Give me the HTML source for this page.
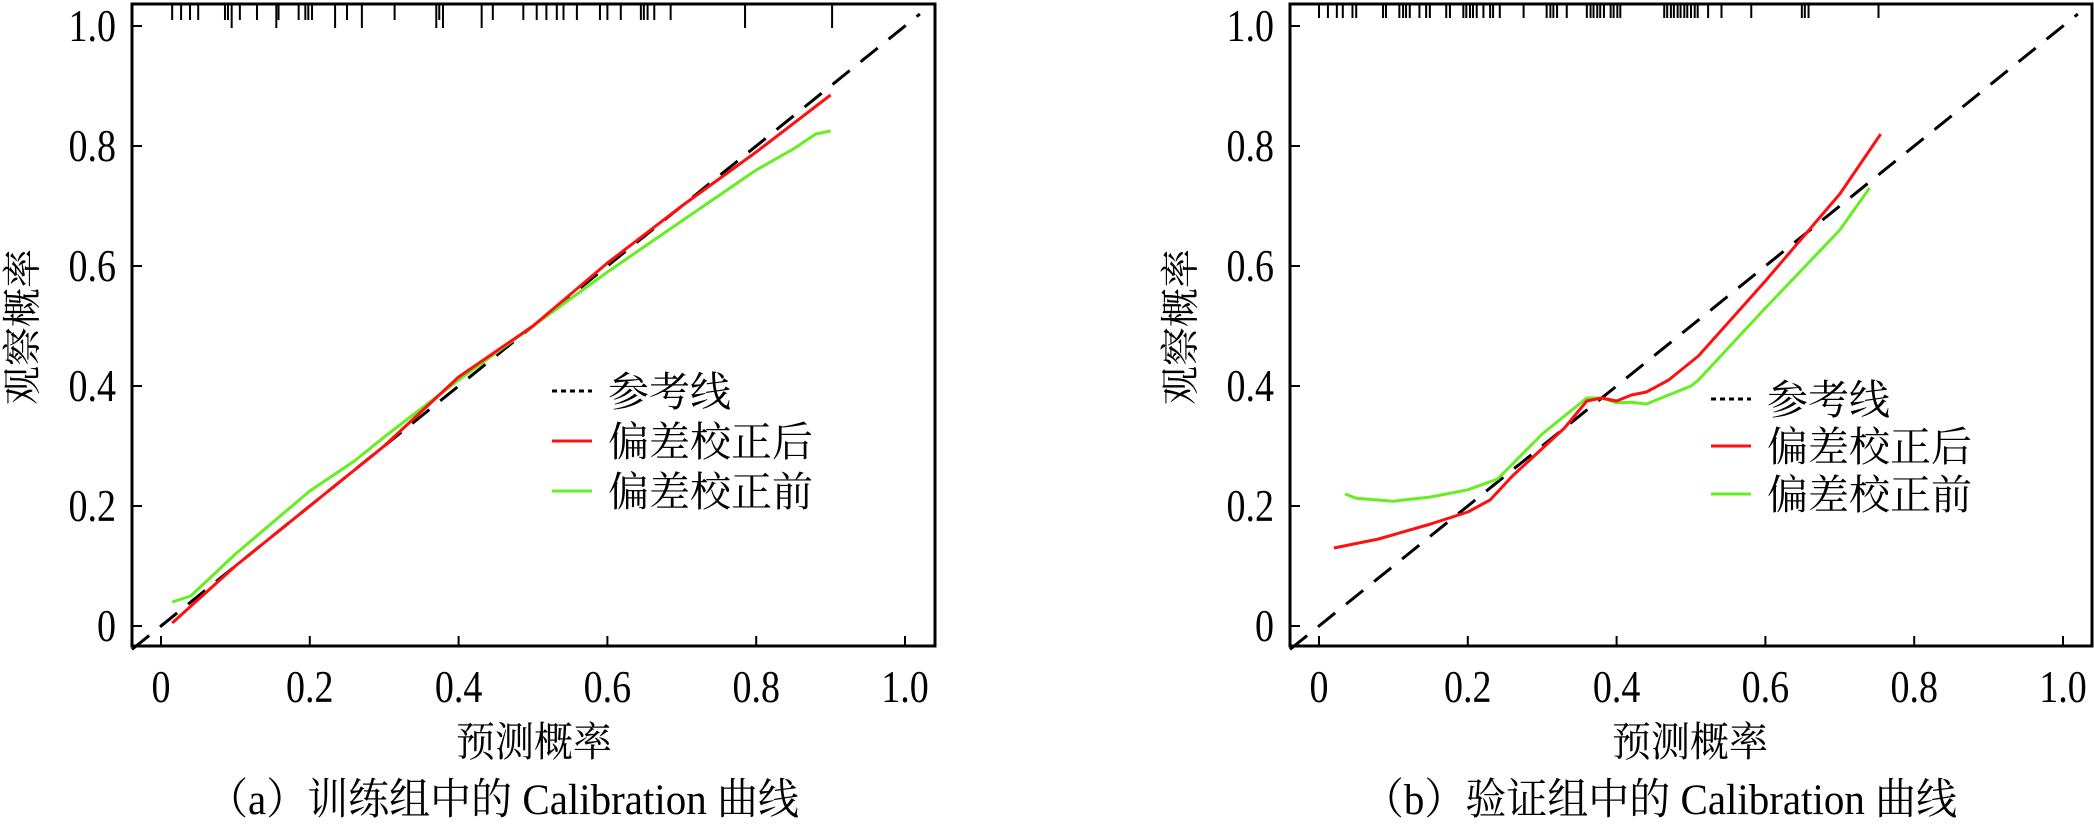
<!DOCTYPE html>
<html><head><meta charset="utf-8"><style>
html,body{margin:0;padding:0;background:#fff;}
svg{display:block;font-family:"Liberation Serif","Noto Serif CJK SC",serif;}
</style></head><body>
<svg id="chart" width="2094" height="824" viewBox="0 0 2094 824" xmlns="http://www.w3.org/2000/svg"></svg>
<script>
const xTicks=[0,0.2,0.4,0.6,0.8,1.0];
const xTickLabels=["0","0.2","0.4","0.6","0.8","1.0"];
const yTicks=[0,0.2,0.4,0.6,0.8,1.0];
const yTickLabels=["0","0.2","0.4","0.6","0.8","1.0"];
const legendLabels=["参考线","偏差校正后","偏差校正前"];
const trainRedX=[0.015,0.1,0.2,0.3,0.4,0.5,0.6,0.7,0.8,0.9];
const trainRedY=[0.005,0.1,0.2,0.3,0.415,0.5,0.605,0.7,0.79,0.885];
const trainGreenX=[0.015,0.04,0.1,0.2,0.26,0.3,0.4,0.5,0.6,0.7,0.8,0.85,0.88,0.9];
const trainGreenY=[0.04,0.05,0.12,0.225,0.275,0.315,0.41,0.5,0.59,0.675,0.76,0.795,0.82,0.825];
const validRedX=[0.02,0.08,0.15,0.2,0.23,0.26,0.33,0.36,0.38,0.4,0.42,0.44,0.47,0.51,0.6,0.7,0.755];
const validRedY=[0.13,0.145,0.17,0.19,0.21,0.25,0.33,0.375,0.38,0.375,0.385,0.39,0.41,0.45,0.575,0.72,0.82];
const validGreenX=[0.035,0.05,0.1,0.15,0.2,0.24,0.3,0.36,0.38,0.4,0.42,0.44,0.5,0.51,0.6,0.7,0.74];
const validGreenY=[0.22,0.213,0.208,0.215,0.227,0.245,0.32,0.38,0.38,0.372,0.373,0.37,0.4,0.41,0.53,0.66,0.73];
const trainRug=[0.015,0.027,0.039,0.05,0.086,0.09,0.095,0.106,0.129,0.155,0.158,0.185,0.194,0.198,0.203,0.234,0.25,0.27,0.314,0.37,0.374,0.379,0.431,0.446,0.487,0.505,0.518,0.532,0.541,0.559,0.59,0.6,0.618,0.645,0.649,0.654,0.663,0.685,0.785,0.902];
const trainRugLong=[0.095,0.155,0.234,0.27,0.37,0.379,0.431,0.785,0.902];
const validRug=[0,0.012,0.024,0.032,0.045,0.05,0.086,0.09,0.108,0.113,0.117,0.122,0.135,0.144,0.149,0.171,0.176,0.194,0.198,0.203,0.207,0.212,0.221,0.23,0.234,0.243,0.275,0.306,0.311,0.315,0.32,0.333,0.36,0.365,0.369,0.374,0.378,0.383,0.392,0.396,0.401,0.405,0.464,0.468,0.473,0.477,0.482,0.486,0.491,0.495,0.5,0.505,0.509,0.523,0.541,0.581,0.649,0.653,0.658,0.752];
const NS="http://www.w3.org/2000/svg";
const svg=document.getElementById('chart');
function mk(tag,attrs,parent){const e=document.createElementNS(NS,tag);for(const k in attrs)e.setAttribute(k,attrs[k]);(parent||svg).appendChild(e);return e;}
function txt(g,x,y,size,anchor,str,sy){
  return mk('text',{x:0,y:0,'font-size':size,'text-anchor':anchor,transform:'translate('+x+','+y+') scale(1,'+(sy||1)+')'},g);
}
function panel(cfg){
  const g=mk('g',{});
  
  
  const sx=v=>cfg.x0+(cfg.x1-cfg.x0)*v;
  const sy=v=>626-600*v;
  const L=cfg.left,R=cfg.right,T=4,B=646;
  const d0=(L-cfg.x0)/(cfg.x1-cfg.x0);
  const diag=mk('line',{x1:sx(d0),y1:sy(d0),x2:sx(1.02),y2:sy(1.02),stroke:'#000','stroke-width':3,'stroke-dasharray':'22,14'},g);
  
  
  function path(xs,ys,color,name){
    let d='';xs.forEach((x,i)=>{d+=(i?'L':'M')+sx(x).toFixed(1)+','+sy(ys[i]).toFixed(1);});
    const p=mk('path',{d:d,fill:'none',stroke:color,'stroke-width':3,'stroke-linejoin':'round'},g);
    
    
  }
  path(cfg.gx,cfg.gy,'#66ee22','before-correction-line');
  path(cfg.rx,cfg.ry,'#ff1010','after-correction-line');
  cfg.rug.forEach(v=>{
    const long=cfg.rugLong.indexOf(v)>=0;
    const r=mk('line',{x1:sx(v),x2:sx(v),y1:T,y2:T+(long?24:cfg.rugLen),stroke:'#000','stroke-width':2},g);
    
    
  });
  const box=mk('rect',{x:L,y:T,width:R-L,height:B-T,fill:'none',stroke:'#000','stroke-width':3},g);
  
  
  xTicks.forEach((v,i)=>{
    const t=mk('line',{x1:sx(v),x2:sx(v),y1:B,y2:B-10,stroke:'#000','stroke-width':2},g);
    
    
    const tx=txt(g,sx(v),702,38,'middle','',1.2);
    tx.textContent=xTickLabels[i];
    
    
  });
  yTicks.forEach((v,i)=>{
    const t=mk('line',{x1:L,x2:L+10,y1:sy(v),y2:sy(v),stroke:'#000','stroke-width':2},g);
    
    
    const tx=txt(g,L-16,sy(v)+15,38,'end','',1.2);
    tx.textContent=yTickLabels[i];
    
    
  });
  const xt=txt(g,cfg.xtx,756,39,'middle','',1.05);
  xt.textContent='预测概率';
  
  
  const yt=mk('text',{x:0,y:0,'font-size':39,'text-anchor':'middle',transform:'translate('+(cfg.ytx)+',327) rotate(-90)'},g);
  yt.textContent='观察概率';
  
  
  const cap=txt(g,cfg.capx,814,41,'middle','',1.05);
  cap.textContent=cfg.caption;
  
  
  const colors=['#000','#ff1010','#66ee22'];
  legendLabels.forEach((lab,i)=>{
    const y=cfg.legY[i];
    const ln=mk('line',{x1:cfg.legX,x2:cfg.legX+40,y1:y,y2:y,stroke:colors[i],'stroke-width':3,'stroke-dasharray':i==0?'5,4':'none'},g);
    
    
    const t=txt(g,cfg.legX+56,y+15,41,'start','',1);
    t.textContent=lab;
    
    
  });
}
panel({name:'train-panel',left:132,right:935,x0:161,x1:905,gx:trainGreenX,gy:trainGreenY,rx:trainRedX,ry:trainRedY,rug:trainRug,rugLong:trainRugLong,rugLen:16,xtx:534,ytx:36,capx:503,caption:'（a）训练组中的 Calibration 曲线',legX:552,legY:[391,441,491]});
panel({name:'validation-panel',left:1290,right:2092,x0:1319,x1:2063,gx:validGreenX,gy:validGreenY,rx:validRedX,ry:validRedY,rug:validRug,rugLong:[],rugLen:14,xtx:1690,ytx:1194,capx:1660,caption:'（b）验证组中的 Calibration 曲线',legX:1711,legY:[399,446,494]});
</script>
</body></html>
